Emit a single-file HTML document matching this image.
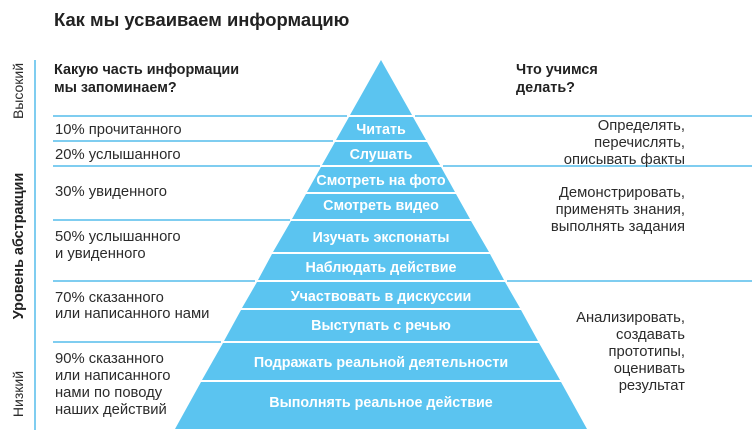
<!DOCTYPE html>
<html><head><meta charset="utf-8"><style>
html,body{margin:0;padding:0;background:#fff;}
svg{display:block;font-family:"Liberation Sans","DejaVu Sans",sans-serif;}
.t{font-size:14.8px;fill:#2b2b2b;}
.b{font-size:14.3px;font-weight:bold;fill:#fff;}
.h{font-size:14.4px;font-weight:bold;fill:#222;}
</style></head><body>
<svg width="752" height="440" viewBox="0 0 752 440" xmlns="http://www.w3.org/2000/svg">
<text x="54" y="26" style="font-size:18.4px;font-weight:bold;fill:#222">Как мы усваиваем информацию</text>
<line x1="35" y1="60" x2="35" y2="430" stroke="#7fcdf0" stroke-width="2"/>
<text transform="translate(23,91) rotate(-90)" text-anchor="middle" class="t" style="font-size:14px">Высокий</text>
<text transform="translate(23,246) rotate(-90)" text-anchor="middle" class="h">Уровень абстракции</text>
<text transform="translate(23,394) rotate(-90)" text-anchor="middle" class="t" style="font-size:14px">Низкий</text>
<text x="54" y="74" class="h">Какую часть информации</text>
<text x="54" y="92" class="h">мы запоминаем?</text>
<text x="516" y="74" class="h">Что учимся</text>
<text x="516" y="92" class="h">делать?</text>
<g stroke="#7fcdf0" stroke-width="2">
<line x1="53" y1="116" x2="347" y2="116"/>
<line x1="53" y1="141" x2="333" y2="141"/>
<line x1="53" y1="166" x2="320" y2="166"/>
<line x1="53" y1="220" x2="290" y2="220"/>
<line x1="53" y1="281" x2="255" y2="281"/>
<line x1="53" y1="342" x2="221" y2="342"/>
<line x1="415" y1="116" x2="752" y2="116"/>
<line x1="443" y1="166" x2="752" y2="166"/>
<line x1="507" y1="281" x2="752" y2="281"/>
</g>
<g fill="#5bc4f0">
<polygon points="381,60 350,115 412,115"/>
<polygon points="349,117 413,117 426,140 336,140"/>
<polygon points="335,142 427,142 440,165 322,165"/>
<polygon points="321,167 441,167 455,192 307,192"/>
<polygon points="306,194 456,194 470,219 292,219"/>
<polygon points="291,221 471,221 489,252 273,252"/>
<polygon points="272,254 490,254 504,280 258,280"/>
<polygon points="257,282 505,282 520,308 242,308"/>
<polygon points="241,310 521,310 538,341 224,341"/>
<polygon points="223,343 539,343 560,380 202,380"/>
<polygon points="201,382 561,382 587,429 175,429"/>
</g>
<g text-anchor="middle">
<text x="381" y="134" class="b">Читать</text>
<text x="381" y="159" class="b">Слушать</text>
<text x="381" y="185" class="b">Смотреть на фото</text>
<text x="381" y="210" class="b">Смотреть видео</text>
<text x="381" y="242" class="b">Изучать экспонаты</text>
<text x="381" y="272" class="b">Наблюдать действие</text>
<text x="381" y="301" class="b">Участвовать в дискуссии</text>
<text x="381" y="330" class="b">Выступать с речью</text>
<text x="381" y="367" class="b">Подражать реальной деятельности</text>
<text x="381" y="407" class="b">Выполнять реальное действие</text>
</g>
<g class="t">
<text x="55" y="134">10% прочитанного</text>
<text x="55" y="159">20% услышанного</text>
<text x="55" y="196">30% увиденного</text>
<text x="55" y="241">50% услышанного</text>
<text x="55" y="258">и увиденного</text>
<text x="55" y="302">70% сказанного</text>
<text x="55" y="318">или написанного нами</text>
<text x="55" y="363">90% сказанного</text>
<text x="55" y="380">или написанного</text>
<text x="55" y="397">нами по поводу</text>
<text x="55" y="414">наших действий</text>
</g>
<g class="t" text-anchor="end">
<text x="685" y="130">Определять,</text>
<text x="685" y="147">перечислять,</text>
<text x="685" y="164">описывать факты</text>
<text x="685" y="197">Демонстрировать,</text>
<text x="685" y="214">применять знания,</text>
<text x="685" y="231">выполнять задания</text>
<text x="685" y="322">Анализировать,</text>
<text x="685" y="339">создавать</text>
<text x="685" y="356">прототипы,</text>
<text x="685" y="373">оценивать</text>
<text x="685" y="390">результат</text>
</g>
</svg>
</body></html>
